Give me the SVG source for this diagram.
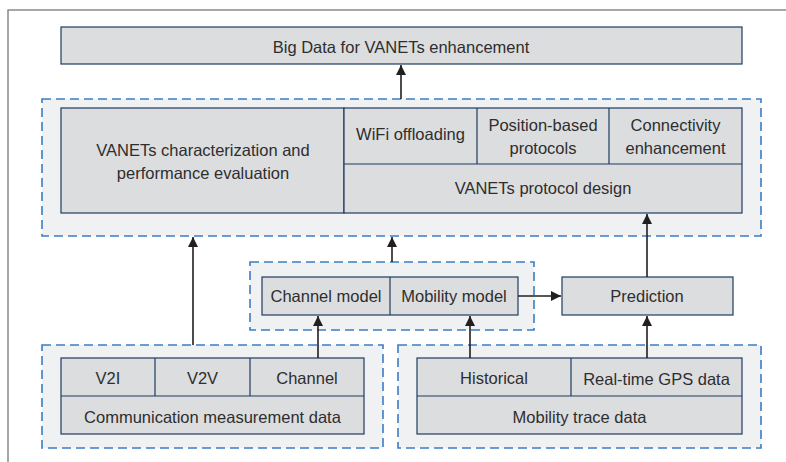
<svg xmlns="http://www.w3.org/2000/svg" width="786" height="462" viewBox="0 0 786 462">
<defs>
<marker id="ah" viewBox="0 0 10 10" refX="10" refY="5" markerWidth="10" markerHeight="10" markerUnits="userSpaceOnUse" orient="auto">
<path d="M0,0 L10,5 L0,10 z" fill="#231f20"/>
</marker>
</defs>
<style>
.grp{fill:#f0f1f3;stroke:#3b7cc6;stroke-width:1.6;stroke-dasharray:9,5}
.box{fill:#dcdddf;stroke:#1f3b61;stroke-width:1.2}
.div{stroke:#1f3b61;stroke-width:1.2;fill:none}
text{font-family:"Liberation Sans",Arial,sans-serif;font-size:16.5px;fill:#2e2e2e;text-anchor:middle}
.con{stroke:#231f20;stroke-width:1.6;fill:none;marker-end:url(#ah)}
</style>
<rect width="786" height="462" fill="#ffffff"/>
<path d="M8,462 V10 H786" fill="none" stroke="#8a8a8a" stroke-width="1.5"/>

<g id="big-data">
<rect class="box" x="61" y="27" width="681" height="37"/>
<text x="401" y="53">Big Data for VANETs enhancement</text>
</g>

<g id="applications">
<rect class="grp" x="42" y="99" width="719" height="137"/>
<g id="characterization">
<rect class="box" x="61" y="108" width="283" height="105"/>
<text x="203" y="156">VANETs characterization and</text>
<text x="203" y="179">performance evaluation</text>
</g>
<g id="protocol-design">
<rect class="box" x="344" y="108" width="398" height="105"/>
<path class="div" d="M344,164 H742 M477,108 V164 M609,108 V164"/>
<text x="410.5" y="140">WiFi offloading</text>
<text x="543" y="131">Position-based</text>
<text x="543" y="154">protocols</text>
<text x="675.5" y="131">Connectivity</text>
<text x="675.5" y="154">enhancement</text>
<text x="543" y="194">VANETs protocol design</text>
</g>
</g>

<g id="models">
<rect class="grp" x="250" y="262" width="284" height="68"/>
<rect class="box" x="262" y="277" width="256" height="38"/>
<path class="div" d="M390,277 V315"/>
<text x="326" y="302">Channel model</text>
<text x="454" y="302">Mobility model</text>
</g>

<g id="prediction">
<rect class="box" x="562" y="277" width="171" height="38"/>
<text x="647" y="302">Prediction</text>
</g>

<g id="communication-data">
<rect class="grp" x="42" y="345" width="341" height="103"/>
<rect class="box" x="61" y="358" width="303" height="76"/>
<path class="div" d="M61,396 H364 M155,358 V396 M250,358 V396"/>
<text x="108" y="384">V2I</text>
<text x="202.5" y="384">V2V</text>
<text x="307" y="384">Channel</text>
<text x="212.5" y="423">Communication measurement data</text>
</g>

<g id="mobility-data">
<rect class="grp" x="398" y="345" width="363" height="103"/>
<rect class="box" x="417" y="358" width="325" height="76"/>
<path class="div" d="M417,396 H742 M571,358 V396"/>
<text x="494" y="384">Historical</text>
<text x="656.5" y="385">Real-time GPS data</text>
<text x="579.5" y="423">Mobility trace data</text>
</g>

<g id="connectors">
<line class="con" x1="401" y1="99" x2="401" y2="65"/>
<line class="con" x1="193" y1="345" x2="193" y2="237"/>
<line class="con" x1="392" y1="262" x2="392" y2="237"/>
<line class="con" x1="647" y1="277" x2="647" y2="214"/>
<line class="con" x1="518" y1="296" x2="561" y2="296"/>
<line class="con" x1="318" y1="358" x2="318" y2="316"/>
<line class="con" x1="470" y1="358" x2="470" y2="316"/>
<line class="con" x1="647" y1="358" x2="647" y2="316"/>
</g>
</svg>
